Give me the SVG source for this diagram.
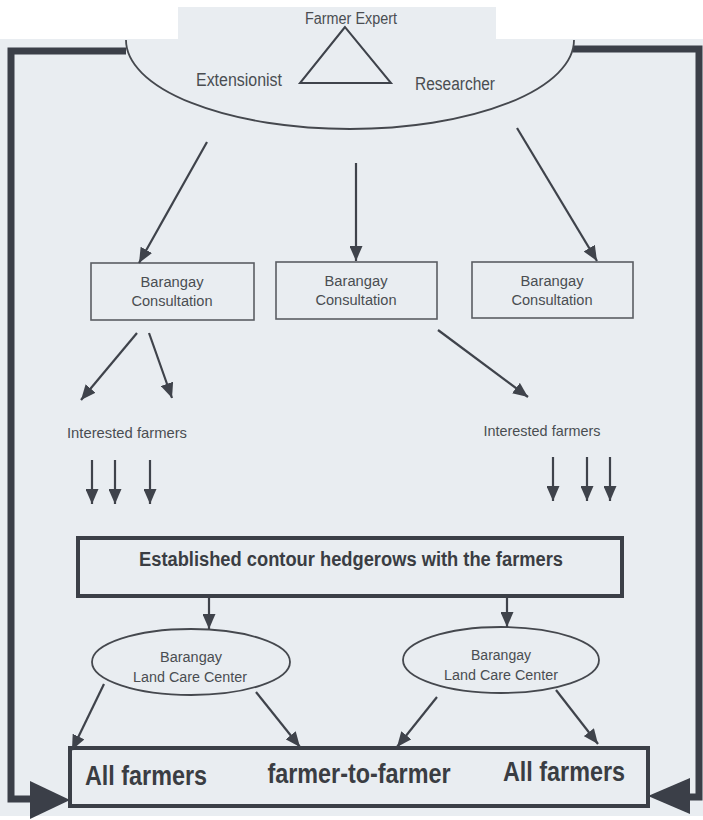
<svg xmlns="http://www.w3.org/2000/svg" width="703" height="820" viewBox="0 0 703 820">
<style>
.t{font-family:"Liberation Sans",Arial,sans-serif;fill:#4a4d52;text-anchor:middle}
.b{font-family:"Liberation Sans",Arial,sans-serif;font-weight:bold;fill:#3a3d43;text-anchor:middle}
.box{fill:none;stroke:#5a5d63;stroke-width:1.6}
.thick{fill:none;stroke:#3b3f47;stroke-width:4}
.ell{fill:none;stroke:#45484e;stroke-width:1.8}
.c{fill:none;stroke:#3f434b;stroke-width:2.2}
.frame{fill:none;stroke:#3b3f48;stroke-width:7;stroke-linejoin:miter}
.head{fill:#3b3f48}
</style>
<defs>
<marker id="ah" markerUnits="userSpaceOnUse" markerWidth="15" markerHeight="13" refX="15" refY="6.5" orient="auto">
<path d="M0,0 L15,6.5 L0,13 z" fill="#3f434b"/>
</marker>
</defs>
<rect x="0" y="0" width="703" height="820" fill="#ffffff"/>
<rect x="0" y="39" width="703" height="777" fill="#e9edf1"/>
<rect x="178" y="7" width="318" height="33" fill="#e9edf1"/>

<g id="frame">
<path class="frame" d="M126,51 H11 V799 H32"/>
<polygon class="head" points="30,781 70,800 30,819"/>
<path class="frame" d="M573,49 H699 V797 H688"/>
<polygon class="head" points="690,778 648,796 690,814"/>
</g>

<g id="top">
<path class="ell" d="M126,40 A224,89 0 0 0 574,40"/>
<polygon points="345,27 300,83 391,83" fill="none" stroke="#3f434b" stroke-width="2"/>
<text class="t" x="351" y="24" font-size="16" textLength="92" lengthAdjust="spacingAndGlyphs">Farmer Expert</text>
<text class="t" x="239" y="86" font-size="18" textLength="86" lengthAdjust="spacingAndGlyphs">Extensionist</text>
<text class="t" x="455" y="90" font-size="18" textLength="80" lengthAdjust="spacingAndGlyphs">Researcher</text>
</g>

<g id="bc1">
<rect class="box" x="91" y="263" width="163" height="57"/>
<text class="t" x="172" y="287" font-size="15.5" textLength="63" lengthAdjust="spacingAndGlyphs">Barangay</text>
<text class="t" x="172" y="306" font-size="15.5" textLength="81" lengthAdjust="spacingAndGlyphs">Consultation</text>
</g>
<g id="bc2">
<rect class="box" x="276" y="262" width="161" height="57"/>
<text class="t" x="356" y="286" font-size="15.5" textLength="63" lengthAdjust="spacingAndGlyphs">Barangay</text>
<text class="t" x="356" y="305" font-size="15.5" textLength="81" lengthAdjust="spacingAndGlyphs">Consultation</text>
</g>
<g id="bc3">
<rect class="box" x="472" y="262" width="161" height="56"/>
<text class="t" x="552" y="286" font-size="15.5" textLength="63" lengthAdjust="spacingAndGlyphs">Barangay</text>
<text class="t" x="552" y="305" font-size="15.5" textLength="81" lengthAdjust="spacingAndGlyphs">Consultation</text>
</g>

<g id="if1">
<text class="t" x="127" y="438" font-size="15" textLength="120" lengthAdjust="spacingAndGlyphs">Interested farmers</text>
</g>
<g id="if2">
<text class="t" x="542" y="436" font-size="15" textLength="117" lengthAdjust="spacingAndGlyphs">Interested farmers</text>
</g>

<g id="established">
<rect class="thick" x="78" y="538" width="544" height="58"/>
<text class="b" x="351" y="566" font-size="20" textLength="424" lengthAdjust="spacingAndGlyphs">Established contour hedgerows with the farmers</text>
</g>

<g id="lcc1">
<ellipse class="ell" cx="191" cy="662" rx="99" ry="33"/>
<text class="t" x="191" y="662" font-size="15.5" textLength="62" lengthAdjust="spacingAndGlyphs">Barangay</text>
<text class="t" x="190" y="682" font-size="15.5" textLength="114" lengthAdjust="spacingAndGlyphs">Land Care Center</text>
</g>
<g id="lcc2">
<ellipse class="ell" cx="501" cy="660" rx="98" ry="33"/>
<text class="t" x="501" y="660" font-size="15.5" textLength="60" lengthAdjust="spacingAndGlyphs">Barangay</text>
<text class="t" x="501" y="680" font-size="15.5" textLength="114" lengthAdjust="spacingAndGlyphs">Land Care Center</text>
</g>

<g id="allfarmers">
<rect class="thick" x="70" y="748" width="578" height="58"/>
<text class="b" x="146" y="785" font-size="27" textLength="122" lengthAdjust="spacingAndGlyphs">All farmers</text>
<text class="b" x="359" y="783" font-size="27" textLength="183" lengthAdjust="spacingAndGlyphs">farmer-to-farmer</text>
<text class="b" x="564" y="781" font-size="27" textLength="122" lengthAdjust="spacingAndGlyphs">All farmers</text>
</g>

<g id="connectors">
<line class="c" x1="207" y1="142" x2="139" y2="263" marker-end="url(#ah)"/>
<line class="c" x1="356" y1="163" x2="356" y2="261" marker-end="url(#ah)"/>
<line class="c" x1="517" y1="128" x2="597" y2="261" marker-end="url(#ah)"/>
<line class="c" x1="137" y1="333" x2="81" y2="400" marker-end="url(#ah)"/>
<line class="c" x1="149" y1="333" x2="172" y2="398" marker-end="url(#ah)"/>
<line class="c" x1="438" y1="330" x2="528" y2="397" marker-end="url(#ah)"/>
<line class="c" x1="92" y1="460" x2="92" y2="504" marker-end="url(#ah)"/>
<line class="c" x1="115" y1="460" x2="115" y2="504" marker-end="url(#ah)"/>
<line class="c" x1="150" y1="460" x2="150" y2="504" marker-end="url(#ah)"/>
<line class="c" x1="553" y1="457" x2="553" y2="501" marker-end="url(#ah)"/>
<line class="c" x1="587" y1="457" x2="587" y2="501" marker-end="url(#ah)"/>
<line class="c" x1="610" y1="457" x2="610" y2="501" marker-end="url(#ah)"/>
<line class="c" x1="209" y1="598" x2="209" y2="629" marker-end="url(#ah)"/>
<line class="c" x1="507" y1="598" x2="507" y2="627" marker-end="url(#ah)"/>
<line class="c" x1="104" y1="684" x2="72" y2="750" marker-end="url(#ah)"/>
<line class="c" x1="256" y1="692" x2="300" y2="747" marker-end="url(#ah)"/>
<line class="c" x1="437" y1="697" x2="397" y2="747" marker-end="url(#ah)"/>
<line class="c" x1="556" y1="690" x2="598" y2="744" marker-end="url(#ah)"/>
</g>
</svg>
